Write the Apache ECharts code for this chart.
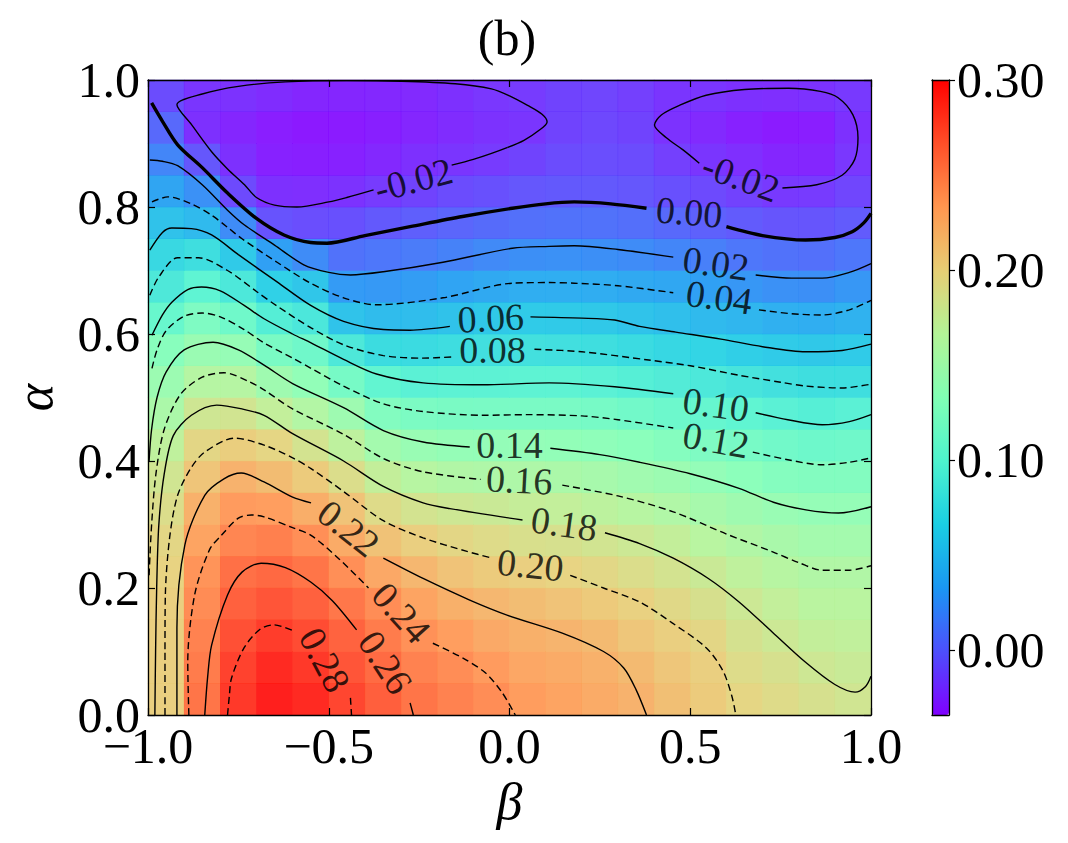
<!DOCTYPE html>
<html><head><meta charset="utf-8">
<script src="https://cdn.jsdelivr.net/npm/echarts@6/dist/echarts.min.js"></script>
<style>html,body{margin:0;padding:0;background:#fff}#chart{width:1068px;height:843px}</style>
</head><body><div id="chart"></div>
<script>
// ---------- DATA ----------
const titleText = '(b)';
const xName = 'β';
const yName = 'α';
const xTicks = [-1.0, -0.5, 0.0, 0.5, 1.0];
const yTicks = [0.0, 0.2, 0.4, 0.6, 0.8, 1.0];
const cbTicks = [0.00, 0.10, 0.20, 0.30];
const cbMin = -0.034, cbMax = 0.30;

// heatmap cell centres
const betaCenters = [-0.95,-0.85,-0.75,-0.65,-0.55,-0.45,-0.35,-0.25,-0.15,-0.05,0.05,0.15,0.25,0.35,0.45,0.55,0.65,0.75,0.85,0.95];
const alphaCenters = [0.025,0.075,0.125,0.175,0.225,0.275,0.325,0.375,0.425,0.475,0.525,0.575,0.625,0.675,0.725,0.775,0.825,0.875,0.925,0.975];

// field values, one row per alpha centre (bottom to top), columns follow betaCenters
const r00 = [0.202,0.256,0.285,0.297,0.292,0.279,0.267,0.256,0.249,0.243,0.235,0.231,0.226,0.221,0.213,0.205,0.197,0.192,0.186,0.182];
const r01 = [0.202,0.252,0.281,0.292,0.285,0.272,0.261,0.249,0.243,0.236,0.229,0.226,0.222,0.216,0.208,0.202,0.191,0.186,0.180,0.176];
const r02 = [0.202,0.249,0.274,0.283,0.276,0.265,0.252,0.241,0.234,0.227,0.223,0.220,0.216,0.208,0.202,0.196,0.185,0.179,0.173,0.171];
const r03 = [0.202,0.244,0.266,0.272,0.266,0.255,0.243,0.231,0.223,0.218,0.214,0.210,0.206,0.201,0.194,0.187,0.179,0.172,0.166,0.166];
const r04 = [0.200,0.240,0.258,0.262,0.256,0.242,0.228,0.218,0.210,0.205,0.202,0.199,0.195,0.190,0.184,0.177,0.170,0.164,0.160,0.160];
const r05 = [0.196,0.231,0.247,0.250,0.242,0.226,0.211,0.202,0.196,0.192,0.188,0.186,0.183,0.179,0.173,0.165,0.160,0.154,0.150,0.150];
const r06 = [0.190,0.222,0.236,0.234,0.224,0.210,0.192,0.184,0.180,0.177,0.174,0.172,0.168,0.164,0.159,0.152,0.147,0.142,0.139,0.139];
const r07 = [0.182,0.209,0.221,0.215,0.205,0.190,0.173,0.164,0.160,0.158,0.157,0.155,0.152,0.148,0.144,0.138,0.133,0.128,0.126,0.126];
const r08 = [0.170,0.196,0.203,0.197,0.184,0.169,0.150,0.142,0.139,0.138,0.138,0.137,0.135,0.132,0.128,0.123,0.118,0.114,0.111,0.112];
const r09 = [0.155,0.181,0.183,0.172,0.161,0.146,0.126,0.121,0.120,0.119,0.119,0.119,0.117,0.114,0.110,0.105,0.101,0.097,0.094,0.097];
const r10 = [0.144,0.163,0.163,0.147,0.137,0.117,0.102,0.097,0.098,0.098,0.099,0.099,0.097,0.094,0.091,0.087,0.083,0.080,0.077,0.077];
const r11 = [0.130,0.143,0.140,0.120,0.112,0.088,0.075,0.074,0.076,0.079,0.080,0.079,0.077,0.074,0.071,0.068,0.064,0.061,0.059,0.061];
const r12 = [0.107,0.123,0.113,0.093,0.086,0.056,0.051,0.052,0.055,0.059,0.061,0.060,0.059,0.056,0.053,0.050,0.047,0.043,0.042,0.045];
const r13 = [0.088,0.100,0.087,0.065,0.058,0.030,0.029,0.031,0.035,0.039,0.042,0.042,0.041,0.039,0.037,0.033,0.028,0.025,0.024,0.028];
const r14 = [0.072,0.077,0.060,0.033,0.022,0.009,0.011,0.014,0.017,0.021,0.024,0.025,0.024,0.022,0.019,0.016,0.011,0.009,0.008,0.011];
const r15 = [0.055,0.050,0.022,-0.007,-0.009,-0.008,-0.004,-0.001,0.002,0.005,0.008,0.009,0.009,0.007,0.004,0.000,-0.003,-0.006,-0.006,-0.003];
const r16 = [0.036,0.025,-0.011,-0.023,-0.024,-0.022,-0.018,-0.014,-0.010,-0.008,-0.005,-0.004,-0.004,-0.005,-0.008,-0.011,-0.015,-0.019,-0.018,-0.013];
const r17 = [0.019,-0.005,-0.023,-0.030,-0.031,-0.030,-0.027,-0.023,-0.021,-0.018,-0.014,-0.010,-0.009,-0.010,-0.016,-0.021,-0.024,-0.028,-0.028,-0.020];
const r18 = [0.004,-0.023,-0.028,-0.032,-0.034,-0.033,-0.031,-0.028,-0.025,-0.022,-0.021,-0.014,-0.012,-0.014,-0.022,-0.026,-0.030,-0.033,-0.032,-0.023];
const r19 = [-0.010,-0.021,-0.022,-0.025,-0.028,-0.028,-0.027,-0.026,-0.023,-0.020,-0.018,-0.014,-0.013,-0.016,-0.021,-0.021,-0.023,-0.024,-0.022,-0.019];
const fieldRows = [r00,r01,r02,r03,r04,r05,r06,r07,r08,r09,r10,r11,r12,r13,r14,r15,r16,r17,r18,r19];

// contour lines: [beta, alpha] points, split into segments where labels sit
const cNeg02L = [
  [[-0.005,0.894],[0.04,0.905],[0.08,0.92],[0.104,0.934],[0.09,0.946],[0.05,0.960],[0.0,0.975],[-0.05,0.986],[-0.15,0.994],[-0.3,0.998],[-0.45,0.999],[-0.62,0.997],[-0.75,0.990],[-0.85,0.978],[-0.92,0.961],[-0.88,0.930],[-0.824,0.887],[-0.78,0.860],[-0.733,0.835],[-0.70,0.815],[-0.65,0.803],[-0.588,0.800],[-0.50,0.808],[-0.45,0.815],[-0.376,0.827]],
  [[-0.16,0.866],[-0.10,0.875],[-0.005,0.894]]
];
const cNeg02R = [
  [[0.755,0.830],[0.85,0.835],[0.92,0.850],[0.955,0.875],[0.964,0.909],[0.95,0.945],[0.909,0.972],[0.86,0.982],[0.772,0.987],[0.65,0.985],[0.544,0.976],[0.47,0.960],[0.42,0.945],[0.401,0.929],[0.434,0.909],[0.48,0.890],[0.525,0.869]]
];
const c000 = [
  [[-0.99,0.964],[-0.96,0.935],[-0.918,0.898],[-0.85,0.862],[-0.78,0.822],[-0.70,0.782],[-0.624,0.756],[-0.55,0.744],[-0.505,0.743],[-0.40,0.755],[-0.275,0.769],[-0.13,0.785],[0.008,0.798],[0.10,0.805],[0.179,0.808],[0.28,0.805],[0.379,0.798]],
  [[0.60,0.769],[0.70,0.755],[0.819,0.748],[0.90,0.752],[0.948,0.761],[0.98,0.775],[1.0,0.790]]
];
const c002 = [
  [[-0.995,0.874],[-0.96,0.872],[-0.918,0.865],[-0.85,0.835],[-0.78,0.795],[-0.734,0.772],[-0.65,0.740],[-0.569,0.709],[-0.50,0.697],[-0.44,0.693],[-0.349,0.698],[-0.184,0.713],[0.008,0.735],[0.11,0.738],[0.179,0.739],[0.30,0.733],[0.453,0.721]],
  [[0.681,0.693],[0.78,0.688],[0.865,0.688],[0.94,0.697],[1.0,0.711]]
];
const c004 = [
  [[-0.989,0.808],[-0.945,0.816],[-0.88,0.805],[-0.824,0.787],[-0.78,0.768],[-0.74,0.750],[-0.643,0.713],[-0.55,0.680],[-0.459,0.657],[-0.368,0.646],[-0.184,0.657],[0.008,0.680],[0.11,0.681],[0.179,0.680],[0.30,0.676],[0.453,0.665]],
  [[0.69,0.638],[0.78,0.632],[0.865,0.630],[0.94,0.638],[1.0,0.653]]
];
const c006 = [
  [[-0.995,0.732],[-0.96,0.760],[-0.934,0.767],[-0.88,0.766],[-0.824,0.756],[-0.75,0.725],[-0.643,0.682],[-0.55,0.645],[-0.459,0.620],[-0.349,0.607],[-0.275,0.606],[-0.165,0.612]],
  [[0.058,0.627],[0.20,0.625],[0.291,0.622],[0.36,0.612],[0.46,0.603],[0.585,0.592],[0.70,0.580],[0.819,0.572],[0.92,0.574],[1.0,0.584]]
];
const c008 = [
  [[-0.995,0.661],[-0.97,0.690],[-0.918,0.720],[-0.86,0.720],[-0.78,0.700],[-0.70,0.667],[-0.643,0.644],[-0.55,0.610],[-0.459,0.583],[-0.349,0.566],[-0.24,0.562],[-0.157,0.564]],
  [[0.069,0.576],[0.20,0.572],[0.385,0.559],[0.50,0.550],[0.635,0.535],[0.75,0.524],[0.82,0.518],[0.92,0.515],[1.0,0.521]]
];
const c010 = [
  [[-0.989,0.598],[-0.96,0.630],[-0.934,0.650],[-0.89,0.670],[-0.852,0.674],[-0.80,0.668],[-0.734,0.645],[-0.679,0.624],[-0.60,0.600],[-0.549,0.586],[-0.459,0.560],[-0.368,0.537],[-0.239,0.523],[-0.074,0.520],[0.11,0.523],[0.291,0.517],[0.453,0.506]],
  [[0.681,0.476],[0.77,0.465],[0.865,0.457],[0.94,0.462],[1.0,0.473]]
];
const c012 = [
  [[-0.989,0.546],[-0.975,0.575],[-0.95,0.605],[-0.90,0.628],[-0.85,0.633],[-0.80,0.627],[-0.734,0.607],[-0.679,0.586],[-0.60,0.562],[-0.549,0.546],[-0.459,0.518],[-0.349,0.490],[-0.239,0.478],[-0.074,0.472],[0.05,0.473],[0.20,0.471],[0.30,0.465],[0.453,0.452]],
  [[0.673,0.414],[0.77,0.402],[0.865,0.394],[0.94,0.398],[1.0,0.405]]
];
const c014 = [
  [[-0.997,0.400],[-0.99,0.450],[-0.975,0.500],[-0.95,0.540],[-0.90,0.575],[-0.82,0.587],[-0.75,0.575],[-0.679,0.551],[-0.60,0.522],[-0.459,0.484],[-0.349,0.448],[-0.239,0.430],[-0.11,0.422]],
  [[0.113,0.420],[0.25,0.410],[0.36,0.398],[0.50,0.380],[0.635,0.357],[0.73,0.335],[0.82,0.323],[0.91,0.318],[1.0,0.328]]
];
const c016 = [
  [[-0.997,0.220],[-0.99,0.300],[-0.978,0.380],[-0.955,0.450],[-0.91,0.505],[-0.85,0.532],[-0.79,0.539],[-0.72,0.525],[-0.679,0.512],[-0.60,0.482],[-0.459,0.442],[-0.349,0.404],[-0.239,0.383],[-0.08,0.371]],
  [[0.146,0.362],[0.30,0.345],[0.453,0.320],[0.60,0.285],[0.728,0.257],[0.80,0.240],[0.865,0.228],[0.94,0.228],[1.0,0.235]]
];
const c018 = [
  [[-0.981,0.0],[-0.979,0.100],[-0.976,0.200],[-0.97,0.300],[-0.955,0.380],[-0.93,0.440],[-0.88,0.472],[-0.81,0.488],[-0.74,0.482],[-0.679,0.472],[-0.60,0.443],[-0.459,0.400],[-0.349,0.360],[-0.239,0.334],[-0.165,0.325],[0.036,0.307]],
  [[0.264,0.287],[0.36,0.270],[0.453,0.247],[0.55,0.215],[0.635,0.178],[0.728,0.130],[0.819,0.083],[0.90,0.048],[0.956,0.036],[0.985,0.045],[1.0,0.061]]
];
const c020 = [
  [[-0.953,0.0],[-0.953,0.100],[-0.952,0.189],[-0.94,0.280],[-0.918,0.346],[-0.88,0.390],[-0.843,0.414],[-0.761,0.436],[-0.679,0.425],[-0.60,0.405],[-0.549,0.388],[-0.459,0.352],[-0.349,0.306],[-0.239,0.279],[-0.12,0.258],[-0.047,0.247]],
  [[0.168,0.220],[0.26,0.200],[0.36,0.178],[0.45,0.145],[0.544,0.106],[0.59,0.070],[0.615,0.030],[0.626,0.0]]
];
const c022 = [
  [[-0.92,0.0],[-0.92,0.137],[-0.898,0.268],[-0.843,0.346],[-0.79,0.372],[-0.742,0.381],[-0.679,0.367],[-0.60,0.343],[-0.549,0.334]],
  [[-0.349,0.247],[-0.239,0.215],[-0.11,0.181],[-0.005,0.157],[0.146,0.129],[0.26,0.100],[0.316,0.074],[0.35,0.040],[0.379,0.0]]
];
const c024 = [
  [[-0.887,0.0],[-0.89,0.083],[-0.871,0.189],[-0.83,0.260],[-0.797,0.283],[-0.75,0.310],[-0.714,0.315],[-0.679,0.312],[-0.60,0.295],[-0.549,0.283],[-0.47,0.245],[-0.39,0.200]],
  [[-0.212,0.113],[-0.13,0.090],[-0.066,0.066],[-0.02,0.035],[0.016,0.0]]
];
const c026 = [
  [[-0.843,0.0],[-0.835,0.060],[-0.824,0.110],[-0.78,0.189],[-0.74,0.225],[-0.687,0.239],[-0.62,0.232],[-0.549,0.209],[-0.49,0.180],[-0.423,0.134]],
  [[-0.275,0.019],[-0.266,0.0]]
];
const c028 = [
  [[-0.78,0.0],[-0.775,0.030],[-0.769,0.058],[-0.734,0.106],[-0.69,0.135],[-0.651,0.142],[-0.60,0.133]],
  [[-0.44,0.027],[-0.437,0.0]]
];
const contourLevels = [-0.02,-0.02,0.00,0.02,0.04,0.06,0.08,0.10,0.12,0.14,0.16,0.18,0.20,0.22,0.24,0.26,0.28];
const contourSegs = [cNeg02L,cNeg02R,c000,c002,c004,c006,c008,c010,c012,c014,c016,c018,c020,c022,c024,c026,c028];

// inline contour labels
const labelText = ['-0.02','-0.02','0.00','0.02','0.04','0.06','0.08','0.10','0.12','0.14','0.16','0.18','0.20','0.22','0.24','0.26','0.28'];
const labelPos = [[-0.266,0.843],[0.64,0.847],[0.497,0.792],[0.571,0.711],[0.580,0.658],[-0.052,0.625],[-0.047,0.575],[0.571,0.489],[0.571,0.433],[0.0,0.425],[0.027,0.370],[0.151,0.301],[0.058,0.236],[-0.445,0.294],[-0.299,0.161],[-0.343,0.083],[-0.511,0.087]];
const labelAngle = [15,-20,-5,-8,-8,3,0,-8,-10,0,-3,-8,-6,-38,-48,-57,-62];

// ---------- CHART ----------
const FONT = '"Liberation Serif", "DejaVu Serif", serif';
const rainbow = ['#8000ff','#4d4ffc','#1a96f3','#1acee3','#4df3ce','#80ffb4','#b3f396','#e6ce74','#ff964f','#ff4f28','#ff0000'];
const fmt1 = v => (v < 0 ? '\u2212' : '') + Math.abs(v).toFixed(1);

const heatData = [];
fieldRows.forEach((row, j) => row.forEach((v, i) => heatData.push([i, j, v])));

const series = [{
  type: 'heatmap', xAxisIndex: 2, yAxisIndex: 2, data: heatData,
  progressive: 0, silent: true, z: 1, emphasis: {disabled: true},
  itemStyle: {opacity: 0.9}
}];

contourSegs.forEach((segs, k) => {
  const lev = contourLevels[k];
  const step = Math.round(lev / 0.02);
  const isZero = step === 0;
  const dashed = step > 0 && step % 2 === 0;
  segs.forEach(seg => {
    series.push({
      type: 'line', xAxisIndex: 0, yAxisIndex: 0, data: seg,
      showSymbol: false, symbol: 'none', smooth: 0.3, silent: true, z: 3,
      lineStyle: {color: '#000', width: isZero ? 3.4 : 1.4, type: dashed ? [7, 4] : 'solid'},
      emphasis: {disabled: true}, animation: false
    });
  });
});

series.push({
  type: 'scatter', xAxisIndex: 0, yAxisIndex: 0, symbolSize: 1, silent: true, z: 4,
  itemStyle: {color: 'rgba(0,0,0,0)'},
  label: {show: true, position: 'inside', fontSize: 38, fontFamily: FONT, color: '#000'},
  data: labelPos.map((p, i) => ({value: p, label: {formatter: labelText[i], rotate: labelAngle[i]}})),
  emphasis: {disabled: true}, animation: false
});

const frameLine = {show: true, onZero: false, lineStyle: {color: '#000', width: 1.3}};
const inTick = {show: true, inside: true, length: 7, lineStyle: {color: '#000', width: 1.2}};
const tickFont = {fontSize: 50, fontFamily: FONT, color: '#000'};

const option = {
  backgroundColor: '#fff',
  animation: false,
  title: {text: titleText, left: 502, top: 8, textAlign: 'center',
    textStyle: {fontSize: 50, fontWeight: 'normal', fontFamily: FONT, color: '#000'}},
  grid: [
    {left: 143, top: 80, width: 728, height: 635, containLabel: false},
    {left: 932, top: 80, width: 17, height: 635, containLabel: false}
  ],
  visualMap: {
    type: 'continuous', min: cbMin, max: cbMax, seriesIndex: 0, orient: 'vertical',
    left: 932, top: 80, itemWidth: 17, itemHeight: 635, padding: 0,
    calculable: false, hoverLink: false, inRange: {color: rainbow}
  },
  xAxis: [
    {type: 'value', gridIndex: 0, min: -1, max: 1, interval: 0.5, position: 'bottom', z: 10,
     axisLine: frameLine, axisTick: inTick, splitLine: {show: false},
     axisLabel: Object.assign({margin: 6, formatter: fmt1, customValues: xTicks}, tickFont),
     name: xName, nameLocation: 'middle', nameGap: 58,
     nameTextStyle: {fontSize: 52, fontFamily: FONT, fontStyle: 'italic', color: '#000'}},
    {type: 'value', gridIndex: 0, min: -1, max: 1, interval: 0.5, position: 'top', z: 10,
     axisLine: frameLine, axisTick: inTick, splitLine: {show: false}, axisLabel: {show: false}},
    {type: 'category', gridIndex: 0, data: betaCenters.map(String), show: false},
    {type: 'value', gridIndex: 1, min: 0, max: 1, position: 'bottom', z: 10,
     axisLine: frameLine, axisTick: {show: false}, axisLabel: {show: false}, splitLine: {show: false}},
    {type: 'value', gridIndex: 1, min: 0, max: 1, position: 'top', z: 10,
     axisLine: frameLine, axisTick: {show: false}, axisLabel: {show: false}, splitLine: {show: false}}
  ],
  yAxis: [
    {type: 'value', gridIndex: 0, min: 0, max: 1, interval: 0.2, position: 'left', z: 10,
     axisLine: frameLine, axisTick: inTick, splitLine: {show: false},
     axisLabel: Object.assign({margin: 8, formatter: fmt1, customValues: yTicks}, tickFont),
     name: yName, nameLocation: 'middle', nameGap: 88, nameRotate: 90,
     nameTextStyle: {fontSize: 52, fontFamily: FONT, fontStyle: 'italic', color: '#000'}},
    {type: 'value', gridIndex: 0, min: 0, max: 1, interval: 0.2, position: 'right', z: 10,
     axisLine: frameLine, axisTick: inTick, splitLine: {show: false}, axisLabel: {show: false}},
    {type: 'category', gridIndex: 0, data: alphaCenters.map(String), show: false},
    {type: 'value', gridIndex: 1, min: cbMin, max: cbMax, position: 'right', z: 10,
     axisLine: frameLine, splitLine: {show: false},
     axisTick: {show: true, inside: false, length: 6, customValues: cbTicks, lineStyle: {color: '#000', width: 1.2}},
     axisLabel: Object.assign({margin: 8, customValues: cbTicks, formatter: v => v.toFixed(2)}, tickFont)},
    {type: 'value', gridIndex: 1, min: cbMin, max: cbMax, position: 'left', z: 10,
     axisLine: frameLine, axisTick: {show: false}, axisLabel: {show: false}, splitLine: {show: false}}
  ],
  series: series
};

const chart = echarts.init(document.getElementById('chart'), null, {renderer: 'svg', width: 1068, height: 843});
chart.setOption(option);
</script></body></html>
